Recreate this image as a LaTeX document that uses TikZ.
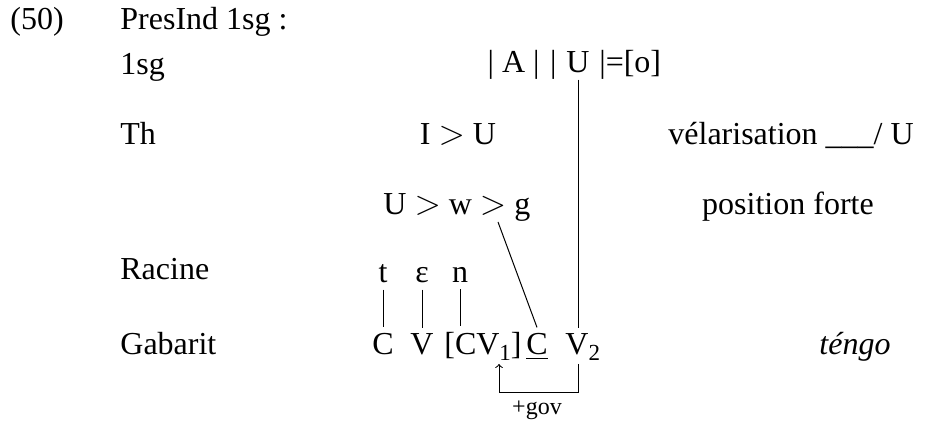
\documentclass[tikz,border=0pt]{standalone}
\usepackage{fontspec}
\setmainfont{Liberation Serif}
\newcommand{\lowsub}[1]{\raisebox{-0.4ex}{\fontsize{11.5}{13}\selectfont #1}}
\begin{document}
\begin{tikzpicture}[x=0.5pt,y=-0.5pt,font=\fontsize{16}{19}\selectfont,
    lbl/.style={anchor=base west,inner sep=3pt},
    seg/.style={anchor=base,inner sep=3pt},
    assoc/.style={line width=0.5pt}]
    \useasboundingbox (0,0) rectangle (942,421);
    % labels on the left
    \node[lbl] (num) at (4,30) {(50)};
    \node[lbl] (title) at (114,30) {PresInd 1sg :};
    \node[lbl] (lsg) at (114,75) {1sg};
    \node[lbl] (lth) at (114,145) {Th};
    \node[lbl] (lrac) at (114,280) {Racine};
    \node[lbl] (lgab) at (114,355) {Gabarit};
    % melodies
    \node[seg] (oU) at (578,73) {U};
    \node[anchor=base east,inner sep=0pt] (oA) at ([xshift=-1.5pt]oU.base west) {| A |\,\,| };
    \node[anchor=base west,inner sep=0pt] (oO) at ([xshift=1.5pt]oU.base east) {|=[o]};
    \node[seg] (thIU) at (458,145) {I $>$ U};
    \node[lbl] (uwg) at (377,215) {U $>$ w $>$ g};
    \coordinate (gfoot) at (498,222);
    % right column
    \node[lbl] (velar) at (662,145) {vélarisation \_\_\_/ U};
    \node[seg] (posf) at (788,215) {position forte};
    \node[seg] (teng) at (855,355) {\textit{téngo}};
    % racine
    \node[seg] (rt) at (383,283) {t};
    \node[seg] (re) at (422,283) {ɛ};
    \node[seg] (rn) at (460,283) {n};
    % gabarit
    \node[seg] (gC) at (383,355) {C};
    \node[seg] (gV) at (422,355) {V};
    \node[seg] (gCV) at (483,355) {[CV\lowsub{1}]};
    \node[seg] (gCu) at (537,355) {\underline{C}};
    \node[lbl] (gV2) at (559,355) {V\lowsub{2}};
    \coordinate (sub1) at (499,364);
    % association lines
    \draw[assoc] (rt.south) -- (gC.north);
    \draw[assoc] (re.south) -- (re.south |- gV.north);
    \draw[assoc] (rn.south) -- (rn.south |- gCV.north);
    \draw[assoc] (gfoot) -- (gCu.north);
    \draw[assoc] (oU.south) -- (oU.south |- gV2.north);
    % government
    \draw[assoc,->] (oU.south |- sub1) -- ++(0,29) -| (sub1);
    \node[anchor=base,inner sep=0pt,font=\fontsize{12}{14}\selectfont] (gov) at (537,415) {+gov};
\end{tikzpicture}
\end{document}
